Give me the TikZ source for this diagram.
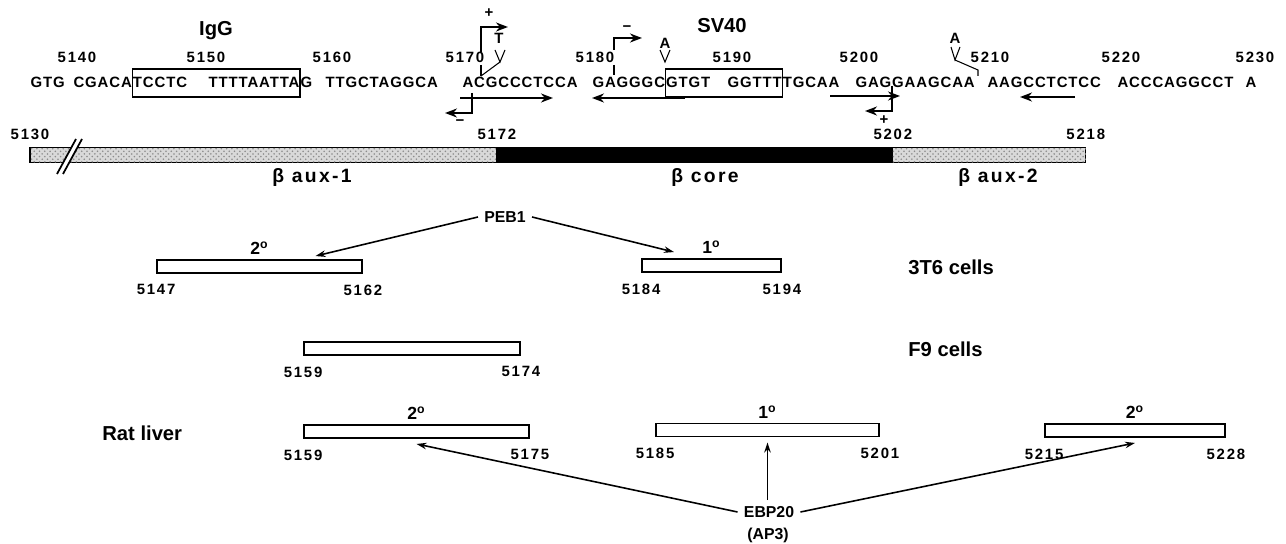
\documentclass[tikz,border=0pt]{standalone}
\usepackage{fontspec}
\setmainfont{Liberation Sans}
\newfontfamily\spacedfont[LetterSpace=12]{Liberation Sans}
\newfontfamily\seqfont[LetterSpace=6]{Liberation Sans}
\usetikzlibrary{
  arrows.meta,
  positioning,
  patterns
}
\tikzset{
  >={Stealth[length=2mm,width=1.3mm]},
  every picture/.style={line width=0.6pt},
  seq/.style={font=\seqfont\bfseries\fontsize{8.5}{10}\selectfont, inner sep=0pt, anchor=base west},
  seqnum/.style={font=\spacedfont\bfseries\fontsize{8.5}{10}\selectfont, inner sep=1.5pt, anchor=base},
  heading/.style={font=\bfseries\fontsize{11.5}{13}\selectfont, anchor=base},
  marktxt/.style={font=\bfseries\fontsize{8.5}{10}\selectfont, inner sep=0pt},
  seqframe/.style={draw, line width=0.6pt},
  strand/.style={->, line width=1.3pt, >={Stealth[length=2.4mm,width=1.8mm]}},
  stipple/.style={draw, line width=0.6pt, outer sep=0pt, inner sep=0pt, minimum height=0.3cm,
    fill=gray!30, postaction={pattern=crosshatch dots, pattern color=gray!90}},
  solidpart/.style={draw, fill=black, outer sep=0pt, inner sep=0pt, minimum height=0.3cm},
  region/.style={font=\spacedfont\bfseries\fontsize{11}{13}\selectfont, anchor=base},
  site/.style={draw, fill=white, line width=1.1pt, minimum height=0.26cm, inner sep=0pt},
  factor/.style={font=\bfseries\fontsize{9}{10}\selectfont},
  celltype/.style={font=\bfseries\fontsize{11.5}{13}\selectfont, anchor=west},
  rank/.style={font=\bfseries\fontsize{10}{12}\selectfont, inner sep=1pt},
  bind/.style={->, line width=0.9pt}
}
\begin{document}
\begin{tikzpicture}[x=0.02cm, y=-0.02cm]
\useasboundingbox (0,0) rectangle (1286,544);

% Sequenz
\node[seq] (s1) at (30,88) {GTG};
\node[seq] (s2a) at (73,88) {CGACA};
\node[seq] (s2b) at (s2a.base east) {TCCTC};
\node[seq] (s3a) at (208,88) {TTTTAATTA};
\node[seq] (s3b) at (s3a.base east) {G};
\node[seq] (s4) at (325,88) {TTGCTAGGCA};
\node[seq] (s5) at (462,88) {ACGCCCTCCA};
\node[seq] (s6a) at (592,88) {GAGGGC};
\node[seq] (s6b) at (s6a.base east) {GTGT};
\node[seq] (s7a) at (727,88) {GGTTT};
\node[seq] (s7b) at (s7a.base east) {TGCAA};
\node[seq] (s8) at (855,88) {GAGGAAGCAA};
\node[seq] (s9) at (987,88) {AAGCCTCTCC};
\node[seq] (s10) at (1117,88) {ACCCAGGCCT};
\node[seq] (s11) at (1245,88) {A};

% Kaesten IgG / SV40
\coordinate (frametop) at (0,69);
\coordinate (framebot) at (0,97);
\draw[seqframe] (s2b.west |- frametop) rectangle (s3a.east |- framebot);
\draw[seqframe] (s6b.west |- frametop) rectangle (s7a.east |- framebot);
\node[heading] (igg) at (216,36) {IgG};
\node[heading] (sv40) at (722,33) {SV40};

% Positionen
\foreach \n/\x in {5140/77, 5150/206, 5160/332, 5170/465, 5180/595,
                   5190/732, 5200/859, 5210/990, 5220/1121, 5230/1255}
  \node[seqnum] (n\n) at (\x,63) {\n};

% Startpunkte oben
\draw[strand] (481,52) -- (481,27) -- (508,27);
\draw[line width=1.3pt] (481,65) -- (481,76);
\draw (481,76) -- (500,62);
\draw (495,50) -- (500,62) -- (505,50);
\node[marktxt] (plus1) at (489,13) {+};
\node[marktxt] (ins1) at (499,38) {T};

\draw[strand] (614,50) -- (614,38) -- (642,38);
\draw[line width=1.3pt] (614,65) -- (614,75);
\node[marktxt] (minus1) at (627,29) {−};

\node[marktxt] (ins2) at (665,43) {A};
\draw (660,50) -- (665,62) -- (670,50);

\node[marktxt] (ins3) at (955,38) {A};
\draw (951,47) -- (955,60) -- (960,47);
\draw (955,60) -- (978,70) -- (978,76);

% Pfeile unter der Sequenz
\draw[strand] (460,98) -- (553,98);
\draw[strand] (472,93) -- (472,113) -- (445,113);
\node[marktxt] (minus2) at (460,123) {−};
\draw[strand] (685,98) -- (592,98);
\draw[strand] (830,96) -- (900,96);
\draw[strand] (892,86) -- (892,111) -- (865,111);
\node[marktxt] (plus2) at (884,120) {+};
\draw[strand] (1075,97) -- (1020,97);

% Balken
\node[stipple, minimum width=9.34cm, anchor=west] (aux1) at (30,155) {};
\node[solidpart, minimum width=7.92cm, right=0pt of aux1] (core) {};
\node[stipple, minimum width=3.86cm, right=0pt of core] (aux2) {};
\fill[white] (57,174) -- (76,139) -- (82,139) -- (63,174) -- cycle;
\draw[line width=1pt] (57,174) -- (76,139);
\draw[line width=1pt] (63,174) -- (82,139);

\node[seqnum, above=0.1cm of aux1.north west] (b5130) {5130};
\node[seqnum, above=0.1cm of aux1.north east] (b5172) {5172};
\node[seqnum, above=0.1cm of core.north east] (b5202) {5202};
\node[seqnum, above=0.1cm of aux2.north east] (b5218) {5218};

\node[region] (raux1) at (312,183) {β~aux-1};
\node[region] (rcore) at (705,183) {β~core};
\node[region] (raux2) at (998,183) {β~aux-2};

% 3T6
\node[factor] (peb) at (505,217) {PEB1};
\node[site, minimum width=4.1cm] (t6a) at (259.5,266.5) {};
\node[site, minimum width=2.78cm] (t6b) at (711.5,265.5) {};
\node[rank, above=1pt of t6a] (t6arank) {2\textsuperscript{o}};
\node[rank, above=1pt of t6b] (t6brank) {1\textsuperscript{o}};
\node[seqnum, below=0.15cm of t6a.south west] (t6al) {5147};
\node[seqnum, below=0.15cm of t6a.south east] (t6ar) {5162};
\node[seqnum, below=0.15cm of t6b.south west] (t6bl) {5184};
\node[seqnum, below=0.15cm of t6b.south east] (t6br) {5194};
\node[celltype] (c3t6) at (902,267) {3T6 cells};
\draw[bind] (peb.west) -- ([xshift=1.12cm, yshift=0.06cm]t6a.north);
\draw[bind] (peb.east) -- ([xshift=-0.75cm, yshift=0.12cm]t6b.north);

% F9
\node[site, minimum width=4.32cm] (f9) at (412,348.5) {};
\node[seqnum, below=0.15cm of f9.south west] (f9l) {5159};
\node[seqnum, below=0.15cm of f9.south east] (f9r) {5174};
\node[celltype] (cf9) at (902,349) {F9 cells};

% Rattenleber
\node[celltype] (crat) at (96,433) {Rat liver};
\node[site, minimum width=4.5cm] (rla) at (416.5,431.5) {};
\node[site, minimum width=4.46cm] (rlb) at (767.5,430) {};
\node[site, minimum width=3.6cm] (rlc) at (1135,430.5) {};
\node[rank, above=1pt of rla] (rlarank) {2\textsuperscript{o}};
\node[rank, above=1pt of rlb] (rlbrank) {1\textsuperscript{o}};
\node[rank, above=1pt of rlc] (rlcrank) {2\textsuperscript{o}};
\node[seqnum, below=0.15cm of rla.south west] (rlal) {5159};
\node[seqnum, below=0.15cm of rla.south east] (rlar) {5175};
\node[seqnum, below=0.15cm of rlb.south west] (rlbl) {5185};
\node[seqnum, below=0.15cm of rlb.south east] (rlbr) {5201};
\node[seqnum, below=0.15cm of rlc.south west] (rlcl) {5215};
\node[seqnum, below=0.15cm of rlc.south east] (rlcr) {5228};

\node[factor] (ebp) at (769,512) {EBP20};
\node[factor] (ap3) at (768,535) {(AP3)};
\draw[bind] (ebp.west) -- ([yshift=-0.1cm]rla.south);
\draw[bind] (ebp.north -| rlb) -- ([yshift=-0.1cm]rlb.south);
\draw[bind] (ebp.east) -- ([yshift=-0.1cm]rlc.south);

\end{tikzpicture}
\end{document}
